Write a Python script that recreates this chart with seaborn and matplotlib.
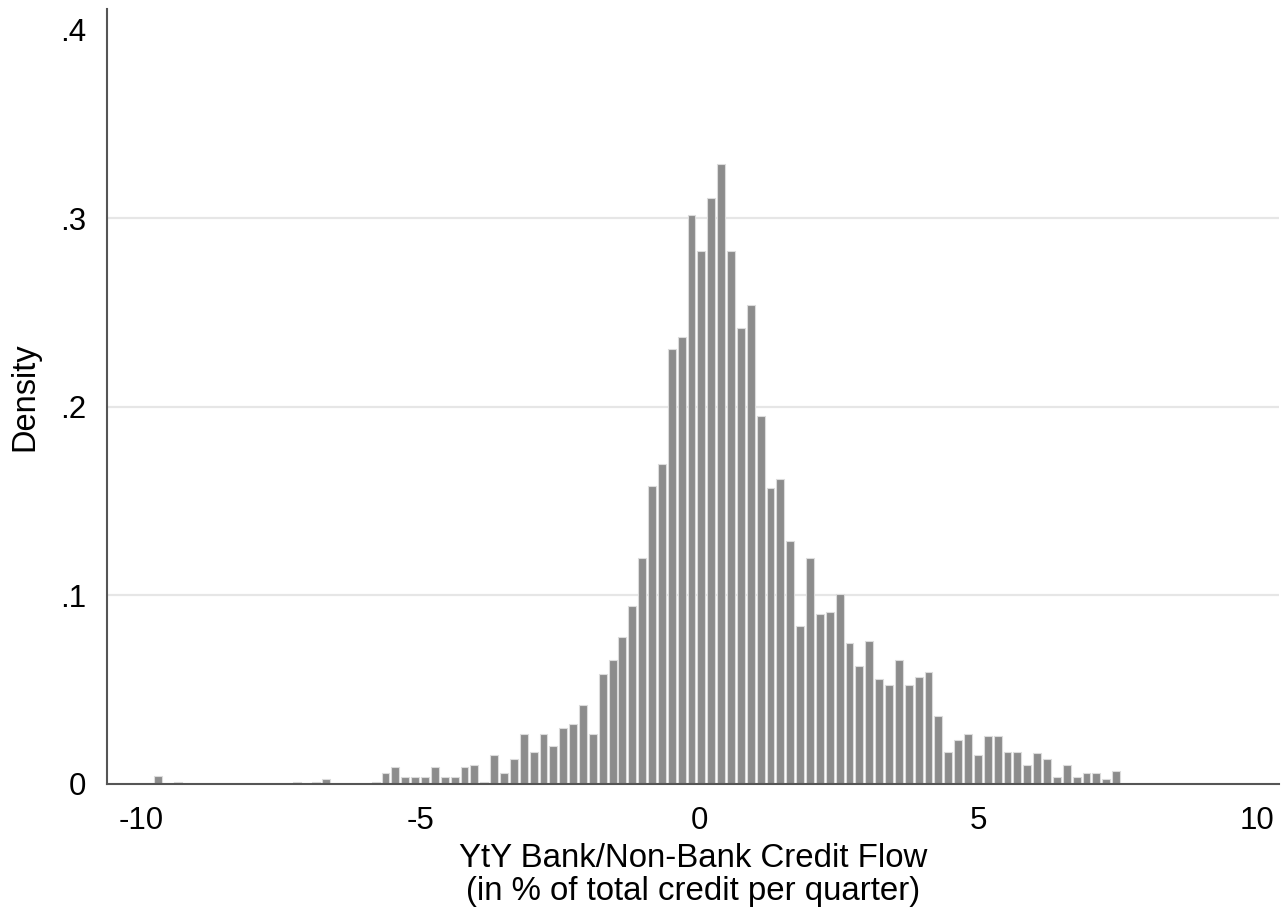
import numpy as np
import pandas as pd
import matplotlib
matplotlib.use("Agg")
import matplotlib.pyplot as plt
import seaborn as sns

# Histogram: 98 equal-width bins, density per bin
first_edge = -9.778
bin_width = 0.1769
density = [
    0.0045, 0.0, 0.0008, 0.0, 0.0, 0.0, 0.0, 0.0, 0.0, 0.0,
    0.0, 0.0, 0.0, 0.0, 0.0008, 0.0, 0.0008, 0.0028, 0.0, 0.0,
    0.0, 0.0, 0.0008, 0.0059, 0.0088, 0.0038, 0.0038, 0.0038, 0.0088, 0.0038,
    0.0038, 0.0088, 0.0099, 0.0008, 0.0153, 0.0059, 0.0131, 0.0264, 0.0172, 0.0264,
    0.0203, 0.0296, 0.0316, 0.0420, 0.0264, 0.0583, 0.0659, 0.0780, 0.0946, 0.1200,
    0.1580, 0.1700, 0.2310, 0.2370, 0.3020, 0.2830, 0.3110, 0.3290, 0.2830, 0.2420,
    0.2540, 0.1950, 0.1570, 0.1620, 0.1290, 0.0840, 0.1200, 0.0900, 0.0915, 0.1010,
    0.0750, 0.0627, 0.0761, 0.0555, 0.0524, 0.0659, 0.0524, 0.0566, 0.0596, 0.0359,
    0.0172, 0.0233, 0.0264, 0.0153, 0.0255, 0.0255, 0.0172, 0.0172, 0.0101, 0.0162,
    0.0131, 0.0038, 0.0101, 0.0038, 0.0059, 0.0059, 0.0027, 0.0068,
]

xticks = [-10, -5, 0, 5, 10]
yticks = [0, 0.1, 0.2, 0.3, 0.4]
ytick_labels = ["0", ".1", ".2", ".3", ".4"]
grid_levels = [0.1, 0.2, 0.3]

sns.set_theme(style="white")
plt.rcParams["font.family"] = ["Liberation Sans", "DejaVu Sans"]
plt.rcParams["text.color"] = "black"
plt.rcParams["axes.labelcolor"] = "black"

edges = first_edge + bin_width * np.arange(len(density) + 1)
df = pd.DataFrame({
    "center": (edges[:-1] + edges[1:]) / 2,
    "density": density,
})

fig = plt.figure(figsize=(12.82, 9.13), dpi=100)
ax = fig.add_axes([0.0835, 0.1413, 0.9142, 0.8488])

for lvl in grid_levels:
    ax.axhline(lvl, color="#e6e6e6", linewidth=1.6, zorder=0)

sns.histplot(data=df, x="center", weights="density", bins=list(edges),
             stat="count", color="#8c8c8c", edgecolor="#dcdcdc", linewidth=0.8,
             shrink=0.8, alpha=1, ax=ax, zorder=2)

ax.set_xlim(-10.61, 10.39)
ax.set_ylim(0, 0.4111)
ax.set_xticks(xticks)
ax.set_xticklabels([str(t) for t in xticks])
ax.set_yticks(yticks)
ax.set_yticklabels(ytick_labels)

for side in ["top", "right"]:
    ax.spines[side].set_visible(False)
for side in ["left", "bottom"]:
    ax.spines[side].set_color("#555555")
    ax.spines[side].set_linewidth(1.5)

ax.tick_params(axis="both", which="major", direction="out", length=9,
               width=1.5, color="#555555", labelsize=22.5, labelcolor="black")
ax.tick_params(axis="x", pad=7)
ax.tick_params(axis="y", pad=6)

ax.set_xlabel("YtY Bank/Non-Bank Credit Flow\n(in % of total credit per quarter)",
              fontsize=23.8, labelpad=5, linespacing=1.08)
ax.set_ylabel("Density", fontsize=23.5, labelpad=14)

fig.savefig("out.png", dpi=100, facecolor="white")
